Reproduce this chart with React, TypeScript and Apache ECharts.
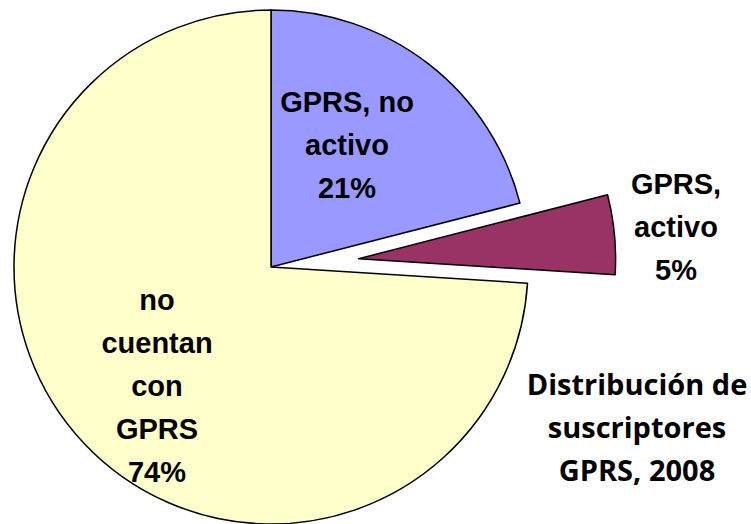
import React, { useEffect, useRef } from "react";
import * as echarts from "echarts";

const categories = ["GPRS, no\nactivo", "GPRS,\nactivo", "no\ncuentan\ncon\nGPRS"];
const values = [21, 5, 74];
const colors = ["#9999FF", "#993366", "#FFFFCC"];
const titleLines = ["Distribución de", "suscriptores", "GPRS, 2008"];

export default function App() {
  const ref = useRef<HTMLDivElement>(null);
  useEffect(() => {
    document.body.style.margin = "0";
    const chart = echarts.init(ref.current!, null, { renderer: "svg" });
    const labelPos = [
      [347, 145],
      [676, 227],
      [157, 386],
    ];
    const labelStyle = {
      show: true,
      position: "inside",
      fontFamily: "Liberation Sans",
      fontWeight: "bold",
      fontSize: 29,
      lineHeight: 43,
      color: "#000",
      formatter: (p: any) => `${p.name}\n${Math.round(p.percent)}%`,
    };
    chart.setOption({
      animation: false,
      backgroundColor: "#ffffff",
      title: {
        text: titleLines.join("\n"),
        left: 632,
        top: 357,
        textAlign: "center",
        textStyle: {
          fontFamily: "Open Sans",
          fontWeight: "bold",
          fontSize: 29,
          lineHeight: 43,
          color: "#000",
        },
      },
      series: [
        {
          type: "pie",
          center: [271, 267],
          radius: 257,
          startAngle: 90,
          clockwise: true,
          selectedMode: "single",
          selectedOffset: 88,
          emphasis: { disabled: true },
          itemStyle: { borderColor: "#000", borderWidth: 1.5 },
          label: { show: false },
          labelLine: { show: false },
          data: categories.map((c, i) => ({
            name: c,
            value: values[i],
            selected: i === 1,
            itemStyle: { color: colors[i] },
          })),
        },
        {
          type: "pie",
          center: [271, 267],
          radius: 257,
          startAngle: 90,
          clockwise: true,
          silent: true,
          selectedMode: false,
          emphasis: { disabled: true },
          itemStyle: { color: "rgba(0,0,0,0)", borderWidth: 0 },
          label: labelStyle,
          labelLine: { show: false },
          labelLayout: (p: any) => ({
            x: labelPos[p.dataIndex][0],
            y: labelPos[p.dataIndex][1],
            align: "center",
            verticalAlign: "middle",
          }),
          data: categories.map((c, i) => ({ name: c, value: values[i] })),
        },
      ],
    });
    return () => chart.dispose();
  }, []);
  return <div ref={ref} style={{ width: 751, height: 524 }} />;
}
